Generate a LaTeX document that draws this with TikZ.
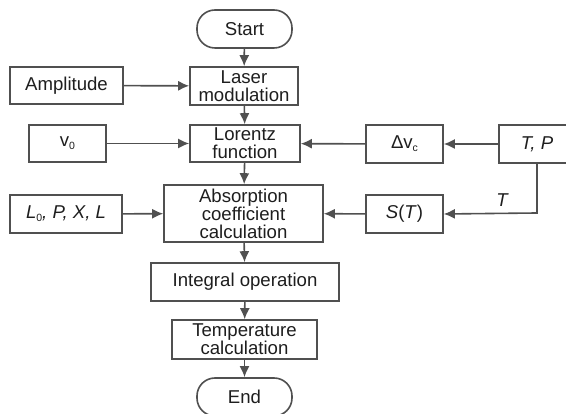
\documentclass[tikz,border=0pt]{standalone}
\usepackage{fontspec}
\setmainfont{Liberation Sans}
\usetikzlibrary{arrows.meta}
\definecolor{linegray}{HTML}{505050}
\definecolor{textgray}{HTML}{1E1E1E}
\newcommand{\subtxt}[1]{\raisebox{-3pt}{\fontsize{10.5}{10}\selectfont\upshape #1}}
\begin{document}
\begin{tikzpicture}[x=1pt,y=1pt,
  every node/.style={font=\fontsize{18.6}{18}\selectfont, text=textgray, inner sep=0pt, align=center},
  box/.style={draw=linegray, line width=1.6pt, rectangle},
  term/.style={draw=linegray, line width=1.6pt, rectangle, rounded corners=18pt},
  conn/.style={draw=linegray, line width=1.6pt, -{Latex[length=11pt,width=10pt]}},
  wire/.style={draw=linegray, line width=1.6pt}]
\useasboundingbox (0,0) rectangle (566,414);
\fill[white] (0,0) rectangle (566,414);
\node[term, minimum width=95pt, minimum height=38pt] (start) at (244.5,385) {Start};
\node[box, minimum width=108pt, minimum height=38pt] (laser) at (244,328) {Laser\\modulation};
\node[box, minimum width=113pt, minimum height=37pt] (amp) at (66.5,328.5) {Amplitude};
\node[box, minimum width=110pt, minimum height=37pt] (lor) at (245,270.5) {Lorentz\\function};
\node[box, minimum width=77pt, minimum height=37pt] (v0) at (67.5,270.5) {v\subtxt{0}};
\node[box, minimum width=77pt, minimum height=38pt] (dv) at (404.5,270) {Δv\subtxt{c}};
\node[box, minimum width=76pt, minimum height=38pt] (tp) at (537,270) {\itshape T, P};
\node[box, minimum width=159pt, minimum height=57pt] (abs) at (243.5,200.5) {Absorption\\coefficient\\calculation};
\node[box, minimum width=112pt, minimum height=38pt] (lpx) at (66,200) {\itshape L\subtxt{0}, P, X, L};
\node[box, minimum width=77pt, minimum height=38pt] (st) at (404.5,200) {\textit{S}(\textit{T})};
\node[box, minimum width=188pt, minimum height=38pt] (int) at (245,132) {Integral operation};
\node[box, minimum width=145pt, minimum height=39pt] (temp) at (244.5,74.5) {Temperature\\calculation};
\node[term, minimum width=95pt, minimum height=38pt] (end) at (244.5,17) {End};
\coordinate (corner) at (537,201);
\draw[conn] (start) -- (laser);
\draw[conn] (laser) -- (lor);
\draw[conn] (lor) -- (abs);
\draw[conn] (abs) -- (int);
\draw[conn] (int) -- (temp);
\draw[conn] (temp) -- (end);
\draw[conn] (amp) -- (laser);
\draw[conn] (v0) -- (lor);
\draw[conn] (dv) -- (lor);
\draw[conn] (tp) -- (dv);
\draw[conn] (lpx) -- (abs);
\draw[conn] (st) -- (abs);
\draw[conn] (tp.south) -- (corner) -- (st.east);
\node (tl) at (502,214) {\itshape T};
\end{tikzpicture}
\end{document}
